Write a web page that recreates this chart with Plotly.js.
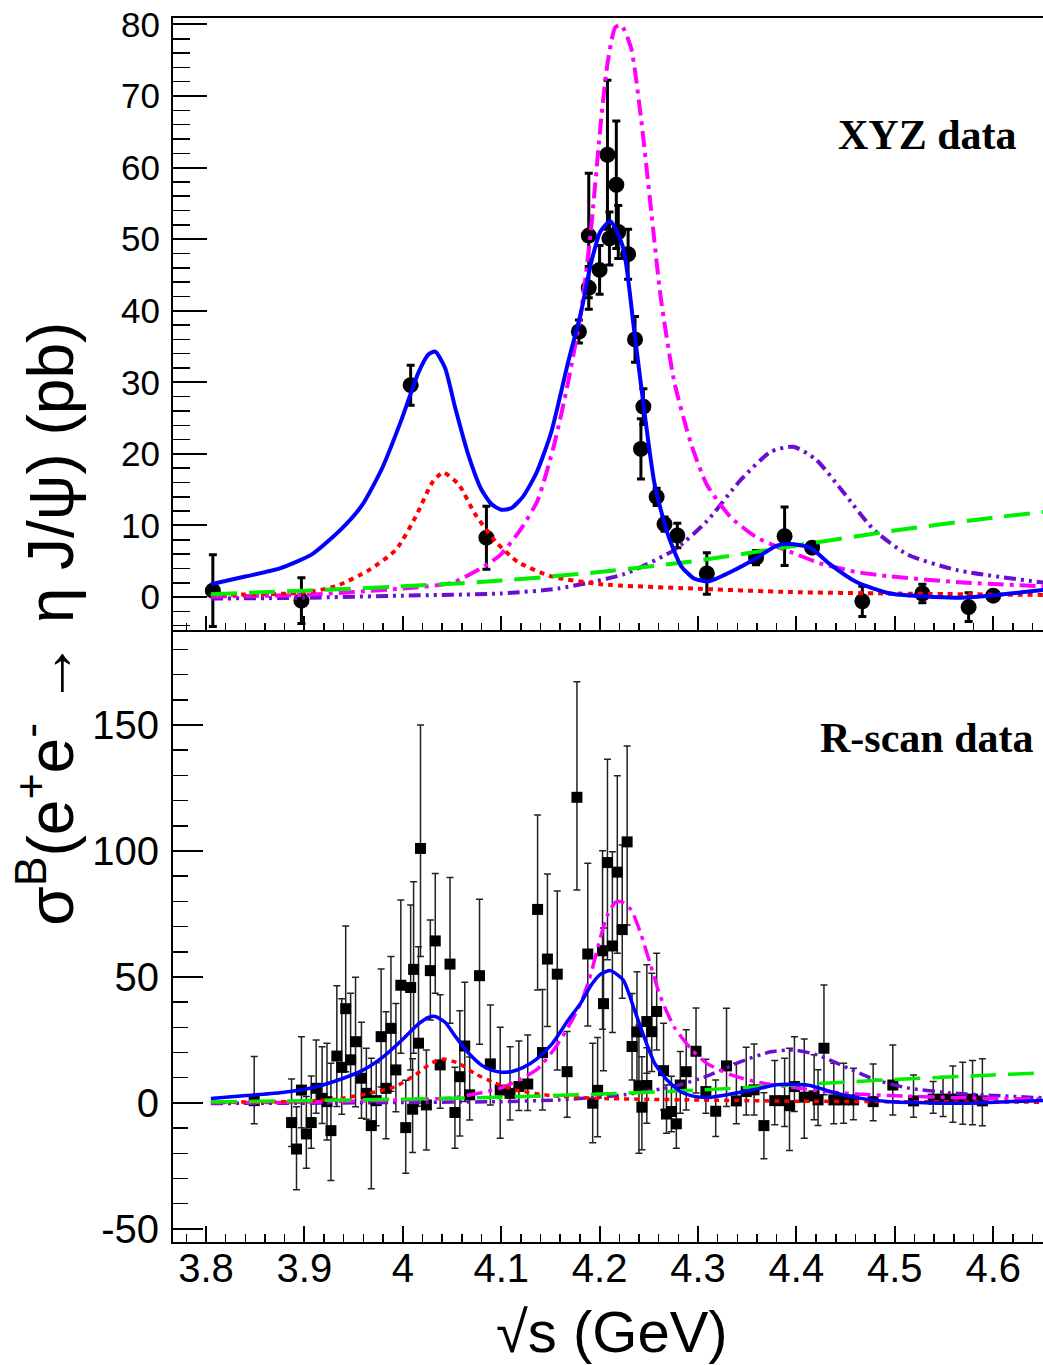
<!DOCTYPE html>
<html>
<head>
<meta charset="utf-8">
<script src="https://cdn.plot.ly/plotly-3.0.1.min.js"></script>
<style>html,body{margin:0;padding:0;background:#fff;}#chart{width:1043px;height:1365px;}</style>
</head>
<body>
<div id="chart"></div>
<script>
// ---------- XYZ data (top panel) ----------
const xyzX   = [3.807, 3.897, 4.008, 4.085, 4.179, 4.189, 4.189, 4.200, 4.208, 4.210, 4.217, 4.219, 4.229, 4.236, 4.2445, 4.242, 4.258, 4.266, 4.279, 4.309, 4.359, 4.388, 4.416, 4.467, 4.528, 4.575, 4.600];
const xyzY   = [0.9, -0.5, 29.6, 8.3, 37.1, 50.5, 43.2, 45.7, 61.8, 50.1, 57.6, 51.0, 47.9, 36.0, 26.6, 20.7, 14.0, 10.2, 8.6, 3.3, 5.5, 8.5, 6.9, -0.6, 0.5, -1.4, 0.2];
const xyzErr = [5.0, 3.2, 2.8, 4.4, 1.6, 8.7, 3.0, 3.4, 10.4, 3.7, 8.9, 3.7, 3.5, 3.2, 2.5, 4.2, 1.2, 1.0, 1.7, 2.9, 1.0, 4.1, 0.5, 2.1, 1.3, 2.0, 0.5];

// ---------- R-scan data (bottom panel) ----------
const rscanX = [3.849,3.887,3.892,3.897,3.902,3.907,3.912,3.918,3.923,3.927,3.933,3.938,3.942,3.947,3.952,3.958,3.963,3.968,3.973,3.978,3.983,3.988,3.993,3.998,4.003,4.008,4.010,4.011,4.016,4.018,4.024,4.028,4.033,4.038,4.048,4.053,4.058,4.063,4.068,4.078,4.089,4.099,4.109,4.118,4.127,4.137,4.142,4.147,4.157,4.167,4.177,4.188,4.193,4.198,4.203,4.204,4.208,4.213,4.218,4.223,4.228,4.233,4.238,4.240,4.243,4.248,4.248,4.253,4.258,4.265,4.268,4.273,4.278,4.282,4.288,4.298,4.308,4.318,4.329,4.339,4.349,4.357,4.367,4.378,4.388,4.393,4.398,4.408,4.418,4.422,4.428,4.438,4.448,4.458,4.478,4.498,4.519,4.539,4.549,4.559,4.569,4.579,4.589];
const rscanY = [0.9,-7.8,-18.3,5.1,-12.3,-7.8,5.8,1.8,0.5,-11,18.6,14.1,37.4,17.1,24.3,9.8,3.8,-9,0.9,26.3,5.8,29.6,13.1,46.7,-9.8,45.8,-2.5,53,23.7,101,-0.8,52.5,64.3,15.1,55.1,-3.8,10.4,22.6,3.2,50.5,15.5,5.1,3.8,6.5,7.5,76.8,20,57.1,51.1,12.4,121.3,59.1,-0.1,5.0,60.4,39.4,95.4,62.3,91.6,68.8,103.6,22.4,28.2,6.8,-1.7,6.9,32.3,28.3,36.3,12.8,-4.4,-3.4,-8.3,7.1,12.4,20.5,4.5,-3.3,14.7,0.8,4.5,5.2,-9,0.9,0.9,-1.1,6.5,2.3,2.8,1.2,21.7,1.2,1.2,1.2,0.5,7.1,0.8,1.5,1.5,1.5,1.5,1.5,0.8];
const rscanErrUp = [17.5,17.3,16.8,21.2,14.8,18.5,19.2,20.5,23.2,26.7,27.9,27.2,32.8,26.4,25.6,22.2,17.9,26.7,15,26.9,30.4,28.5,26.4,33.8,18.8,32.8,20,34.8,38.3,49,21.8,20.1,26.8,27.8,34.4,18,26.2,25.3,15,30.3,23.4,24.9,18.5,18.1,19.5,37.5,25,33.8,33,15.9,45.9,36,23.8,21,39.7,30,41,37.4,38.3,33.6,38.1,21,23.9,24,20,15,22.5,23.2,23.1,18.8,11.5,14,15.4,13.3,16.6,17.2,12.8,12.4,22.9,14.9,17.6,18.2,13,15.9,16.8,22.8,19.8,23.1,16.3,12,25.1,14.5,14.5,12.6,14.9,15.9,10.3,7,9,13.2,14.6,15.3,16.7];
const rscanErrDn = [9.2,9.5,16.2,15,13.6,10.2,9.9,10,15.2,19.8,20,18.6,25,17,25.8,15.9,10.3,25.1,10,20,20,25,16.6,27,18.1,32.7,17.2,33.3,25,42.9,17.9,19.6,20.8,17.2,23.5,14.2,23.5,22,10,27.2,16.3,19.1,10.6,9.5,10.5,32,22.8,26.8,38,18.1,36.8,28.6,15.7,18.4,31.2,26.6,38.6,34.4,32.2,27.3,33,13.3,24.4,26.8,16.9,15,20.5,15.8,15.3,15.6,7.6,8,9.7,11.2,15.2,16.6,8.6,10,16.1,9.1,9.3,10,13.2,9.6,10.3,17.8,9.9,16.3,9.5,10.2,18.5,9.5,9.3,7.9,7.6,11.9,6.5,5.6,6.9,9.2,10,10.2,9.9];

// ---------- Fit curves ----------
const totalFitX = [3.805,3.841,3.875,3.908,3.939,3.959,3.979,3.999,4.016,4.026,4.033,4.043,4.053,4.067,4.080,4.090,4.100,4.110,4.122,4.136,4.151,4.168,4.181,4.191,4.201,4.211,4.224,4.235,4.246,4.256,4.269,4.283,4.296,4.311,4.333,4.360,4.380,4.394,4.414,4.434,4.461,4.495,4.529,4.562,4.596,4.652];
const totalFitY = [1.8,2.9,4.0,6.0,9.7,12.9,18.0,24.9,31.4,33.9,34.3,32.0,26.6,19.7,15.0,13.0,12.2,12.4,14.0,17.4,23.1,32.8,39.7,46.5,51.1,52.5,48.8,37.4,25.4,15.7,8.9,4.3,2.6,2.2,3.5,5.5,7.2,7.4,6.9,4.6,2.1,0.5,0.1,-0.1,0.2,1.0];
const y4220X = [3.805,3.9,4.0,4.05,4.083,4.1,4.12,4.137,4.154,4.168,4.181,4.191,4.201,4.208,4.216,4.222,4.232,4.242,4.252,4.262,4.276,4.293,4.309,4.333,4.36,4.394,4.427,4.461,4.495,4.562,4.652];
const y4220Y = [0.1,0.3,1.2,2.0,4.3,6.0,9.5,13.5,21.4,30.0,39.7,51.0,65.9,74.5,79.6,79.9,76.7,67.0,54.5,42.0,30.0,21.4,15.7,11.2,8.3,6.3,4.6,3.5,2.9,2.1,1.5];
const y4040X = [3.805,3.898,3.932,3.966,3.993,4.013,4.030,4.041,4.057,4.073,4.094,4.117,4.151,4.201,4.293,4.394,4.495,4.652];
const y4040Y = [0.3,0.6,1.5,3.8,6.6,11.2,16.0,17.4,15.7,11.7,7.8,4.9,2.9,1.8,1.2,0.7,0.5,0.3];
const y4390X = [3.805,3.9,4.0,4.1,4.158,4.225,4.276,4.309,4.343,4.374,4.397,4.420,4.448,4.478,4.512,4.562,4.652];
const y4390Y = [-0.2,-0.1,0.2,0.5,1.2,3.2,6.6,10.6,16.3,20.3,21.0,19.2,14.6,9.5,6.0,3.8,2.0];
const contX = [3.805,3.9,4.0,4.1,4.2,4.3,4.4,4.5,4.6,4.652];
const contY = [0.4,0.9,1.5,2.3,3.5,5.1,7.2,9.3,11.1,11.9];

// ---------- Axis ticks ----------
const xTickVals = [3.8,3.9,4.0,4.1,4.2,4.3,4.4,4.5,4.6];
const xTickText = ["3.8","3.9","4","4.1","4.2","4.3","4.4","4.5","4.6"];
const yTopTickVals = [0,10,20,30,40,50,60,70,80];
const yTopTickText = ["0","10","20","30","40","50","60","70","80"];
const yBotTickVals = [-50,0,50,100,150];
const yBotTickText = ["-50","0","50","100","150"];

// ---------- styles ----------
const curveDefs = [
  {x: y4390X, y: y4390Y, color: '#6a0fd0', dash: '12px,5px,3px,5px,3px,5px'},
  {x: y4220X, y: y4220Y, color: '#ff00ff', dash: '16px,6px,4px,6px'},
  {x: y4040X, y: y4040Y, color: '#ff0000', dash: '5px,5px'},
  {x: contX,  y: contY,  color: '#00ee00', dash: '26px,12px'},
  {x: totalFitX, y: totalFitY, color: '#0000ff', dash: 'solid'}
];

const traces = [];
traces.push({
  x: xyzX, y: xyzY, xaxis: 'x2', yaxis: 'y2', type: 'scatter', mode: 'markers',
  marker: {symbol: 'circle', size: 16, color: 'black'},
  error_y: {type: 'data', array: xyzErr, visible: true, color: 'black', thickness: 3, width: 4},
  showlegend: false, hoverinfo: 'skip'
});
traces.push({
  x: rscanX, y: rscanY, xaxis: 'x', yaxis: 'y', type: 'scatter', mode: 'markers',
  marker: {symbol: 'square', size: 11, color: 'black'},
  error_y: {type: 'data', symmetric: false, array: rscanErrUp, arrayminus: rscanErrDn, visible: true, color: '#222', thickness: 1.5, width: 3.5},
  showlegend: false, hoverinfo: 'skip'
});
curveDefs.forEach(c => {
  traces.push({x: c.x, y: c.y, xaxis: 'x2', yaxis: 'y2', type: 'scatter', mode: 'lines',
    line: {color: c.color, width: 4, dash: c.dash, shape: 'spline', smoothing: 0.6}, showlegend: false, hoverinfo: 'skip'});
  traces.push({x: c.x, y: c.y, xaxis: 'x', yaxis: 'y', type: 'scatter', mode: 'lines',
    line: {color: c.color, width: 3.5, dash: c.dash, shape: 'spline', smoothing: 0.6}, showlegend: false, hoverinfo: 'skip'});
});

const FONT = 'Liberation Sans, Arial, Helvetica, sans-serif';
const axisCommon = {showline: true, linecolor: 'black', linewidth: 2, showgrid: false, zeroline: false,
  ticks: 'inside', tickcolor: 'black', tickwidth: 2};

const layout = {
  width: 1043, height: 1365,
  margin: {l: 173, r: 0, t: 18, b: 123},
  paper_bgcolor: 'white', plot_bgcolor: 'white',
  showlegend: false,
  xaxis: Object.assign({}, axisCommon, {
    domain: [0, 1], anchor: 'y', range: [3.7665, 4.6506],
    tickmode: 'array', tickvals: xTickVals, ticktext: xTickText, ticklen: 16,
    tickfont: {family: FONT, size: 40, color: 'black'}, ticklabelstandoff: -10,
    minor: {tickmode: 'linear', tick0: 3.8, dtick: 0.02, ticks: 'inside', ticklen: 8, tickcolor: 'black', tickwidth: 1.5}
  }),
  xaxis2: Object.assign({}, axisCommon, {
    domain: [0, 1], anchor: 'y2', matches: 'x', range: [3.7665, 4.6506], mirror: true,
    tickmode: 'array', tickvals: xTickVals, ticktext: xTickText, ticklen: 14, showticklabels: false,
    minor: {tickmode: 'linear', tick0: 3.8, dtick: 0.02, ticks: 'inside', ticklen: 7, tickcolor: 'black', tickwidth: 1.5}
  }),
  yaxis: Object.assign({}, axisCommon, {
    domain: [0, 0.5], anchor: 'x', range: [-55.2, 187.7],
    tickmode: 'array', tickvals: yBotTickVals, ticktext: yBotTickText, ticklen: 30,
    tickfont: {family: FONT, size: 40, color: 'black'}, ticklabelstandoff: 4,
    minor: {tickmode: 'linear', tick0: 0, dtick: 10, ticks: 'inside', ticklen: 15, tickcolor: 'black', tickwidth: 1.5}
  }),
  yaxis2: Object.assign({}, axisCommon, {
    domain: [0.5, 1], anchor: 'x2', range: [-4.6, 80.9],
    tickmode: 'array', tickvals: yTopTickVals, ticktext: yTopTickText, ticklen: 34,
    tickfont: {family: FONT, size: 35, color: 'black'}, ticklabelstandoff: 4,
    minor: {tickmode: 'linear', tick0: 0, dtick: 2, ticks: 'inside', ticklen: 17, tickcolor: 'black', tickwidth: 1.5}
  }),
  annotations: [
    {xref: 'paper', yref: 'paper', x: -0.146, y: 0.505, xanchor: 'center', yanchor: 'middle', textangle: -90,
     showarrow: false, text: 'σ<sup>B</sup>(e<sup>+</sup>e<sup>-</sup> → η J/ψ) (pb)',
     font: {family: FONT, size: 64, color: 'black'}},
    {xref: 'paper', yref: 'paper', x: 0.5046, y: -0.073, xanchor: 'center', yanchor: 'middle',
     showarrow: false, text: '√s (GeV)', font: {family: FONT, size: 58, color: 'black'}},
    {xref: 'paper', yref: 'paper', x: 0.8667, y: 0.9044, xanchor: 'center', yanchor: 'middle',
     showarrow: false, text: '<b>XYZ data</b>', font: {family: 'Liberation Serif, Times New Roman, serif', size: 42, color: 'black'}},
    {xref: 'paper', yref: 'paper', x: 0.8667, y: 0.4118, xanchor: 'center', yanchor: 'middle',
     showarrow: false, text: '<b>R-scan data</b>', font: {family: 'Liberation Serif, Times New Roman, serif', size: 42, color: 'black'}}
  ]
};

Plotly.newPlot('chart', traces, layout, {staticPlot: true, displayModeBar: false});
</script>
</body>
</html>
